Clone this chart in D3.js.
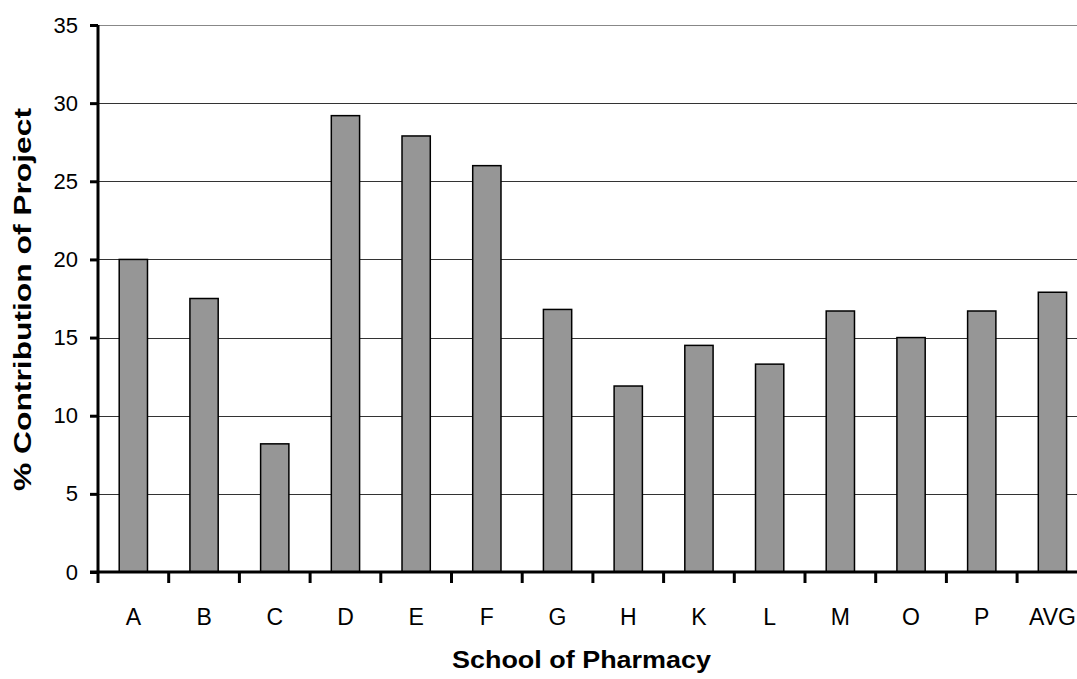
<!DOCTYPE html>
<html><head><meta charset="utf-8">
<script src="https://cdn.jsdelivr.net/npm/d3@7"></script>
<style>
html,body{margin:0;padding:0;background:#fff;overflow:hidden}
text{font-family:"Liberation Sans",Arial,sans-serif;fill:#000}
</style></head><body>
<svg id="c" width="1077" height="679"></svg>
<script>
const categories = ["A","B","C","D","E","F","G","H","K","L","M","O","P","AVG"];
const values = [20.0,17.5,8.2,29.2,27.9,26.0,16.8,11.9,14.5,13.3,16.7,15.0,16.7,17.9];
const yTicks = [0,5,10,15,20,25,30,35];
const xTitle = "School of Pharmacy";
const yTitle = "% Contribution of Project";

const svg = d3.select("#c");
const mLeft = 98, mTop = 25, mBottom = 572, bandW = 70.7;
const mRight = mLeft + bandW*categories.length;

const x = d3.scaleBand().domain(categories).range([mLeft,mRight]).paddingInner(0.6).paddingOuter(0.3);
const xb = d3.scaleBand().domain(categories).range([mLeft,mRight]);
const y = d3.scaleLinear().domain([0,35]).range([mBottom,mTop]);

// gridlines
svg.append("g").selectAll("line").data(yTicks.filter(d=>d>0)).join("line")
  .attr("x1",mLeft).attr("x2",mRight).attr("y1",d=>Math.round(y(d))+0.5).attr("y2",d=>Math.round(y(d))+0.5)
  .attr("stroke",(d)=>d===35?"#888":"#333").attr("stroke-width",1);

// bars
svg.append("g").selectAll("rect").data(values).join("rect")
  .attr("x",(d,i)=>x(categories[i]))
  .attr("width",x.bandwidth())
  .attr("y",d=>y(d))
  .attr("height",d=>mBottom-y(d))
  .attr("fill","#969696").attr("stroke","#000").attr("stroke-width",1.5);

// y axis
const yAxis = svg.append("g").attr("transform",`translate(${mLeft},0)`)
  .call(d3.axisLeft(y).tickValues(yTicks).tickSize(8).tickPadding(12));
yAxis.select(".domain").attr("stroke","#000").attr("stroke-width",3).attr("d",`M0,${mTop}V${mBottom}`);
yAxis.selectAll(".tick line").attr("stroke","#000").attr("stroke-width",3);
yAxis.selectAll(".tick text").attr("font-size",22).attr("font-family","Liberation Sans, Arial, sans-serif").attr("fill","#000");

// x axis
const xAxis = svg.append("g").attr("transform",`translate(0,${mBottom})`)
  .call(d3.axisBottom(xb).tickSize(0).tickPadding(37));
xAxis.select(".domain").attr("stroke","#000").attr("stroke-width",3).attr("d",`M${mLeft-8},0H${mRight}`);
xAxis.selectAll(".tick text").attr("font-size",23).attr("font-family","Liberation Sans, Arial, sans-serif").attr("fill","#000");
// boundary tick marks
svg.append("g").selectAll("line").data(d3.range(categories.length+1)).join("line")
  .attr("x1",i=>mLeft+i*bandW).attr("x2",i=>mLeft+i*bandW)
  .attr("y1",mBottom).attr("y2",mBottom+11)
  .attr("stroke","#000").attr("stroke-width",3);

svg.append("text").attr("x",581.5).attr("y",668).attr("text-anchor","middle")
  .attr("font-size",23).attr("font-weight","bold")
  .attr("textLength",259).attr("lengthAdjust","spacingAndGlyphs").text(xTitle);
svg.append("text").attr("transform","translate(31,299.5) rotate(-90)").attr("text-anchor","middle")
  .attr("font-size",24).attr("font-weight","bold")
  .attr("textLength",383).attr("lengthAdjust","spacingAndGlyphs").text(yTitle);
</script></body></html>
